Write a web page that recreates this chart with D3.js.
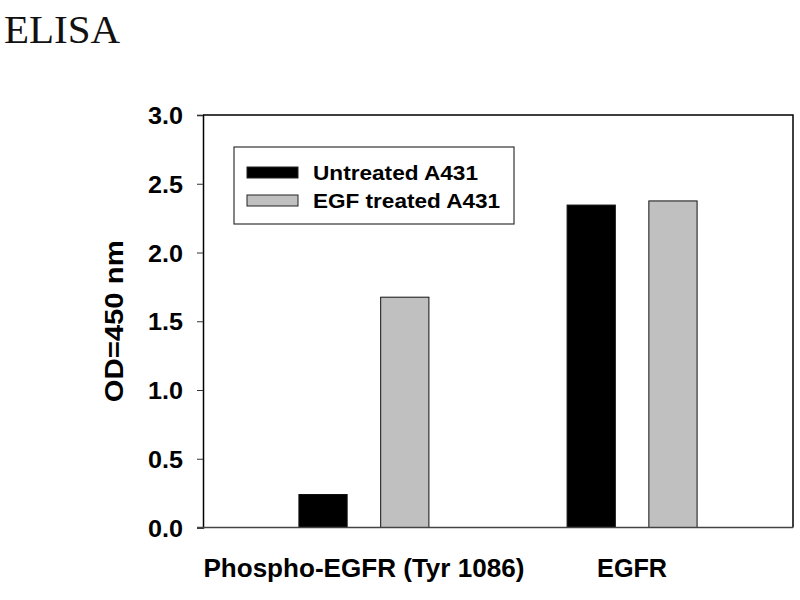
<!DOCTYPE html>
<html>
<head>
<meta charset="utf-8">
<script src="https://cdn.jsdelivr.net/npm/d3@7"></script>
<style>
  html, body { margin: 0; padding: 0; background: #fff; }
  svg { display: block; }
</style>
</head>
<body>
<svg id="chart" width="800" height="600"></svg>
<script>
// ---- data ----
const categories = ["Phospho-EGFR (Tyr 1086)", "EGFR"];
const seriesNames = ["Untreated A431", "EGF treated A431"];
const untreated = [0.24, 2.345];
const egfTreated = [1.675, 2.375];
const yTicks = [0.0, 0.5, 1.0, 1.5, 2.0, 2.5, 3.0];
const seriesColors = ["#000000", "#c0c0c0"];

const svg = d3.select("#chart");
const font = "'Liberation Sans', Arial, sans-serif";

const plot = { left: 203, right: 793, top: 115, bottom: 527.5 };

// title
svg.append("text")
  .attr("x", 4).attr("y", 43)
  .attr("font-family", "'Liberation Serif', 'Times New Roman', serif")
  .attr("font-size", 41)
  .attr("fill", "#111")
  .text("ELISA");

const x0 = d3.scalePoint().domain(categories).range([plot.left, plot.right]).padding(0.6);
const x1 = d3.scaleBand().domain(seriesNames).range([-65, 65]).paddingInner(0.41);
const y = d3.scaleLinear().domain([0, 3]).range([plot.bottom, plot.top]);

const values = [untreated, egfTreated];
const rows = [];
categories.forEach((c, i) => {
  seriesNames.forEach((s, j) => rows.push({ cat: c, series: s, value: values[j][i], color: seriesColors[j] }));
});

// bars
svg.append("g").selectAll("rect").data(rows).join("rect")
  .attr("x", d => x0(d.cat) + x1(d.series))
  .attr("width", x1.bandwidth())
  .attr("y", d => y(d.value))
  .attr("height", d => y(0) - y(d.value))
  .attr("fill", d => d.color)
  .attr("stroke", "#111")
  .attr("stroke-width", 1);

// frame: top and right
svg.append("path")
  .attr("d", `M${plot.left},${plot.top}H${plot.right}V${plot.bottom}`)
  .attr("fill", "none").attr("stroke", "#000").attr("stroke-width", 1.5);

// y axis
const yAxis = svg.append("g")
  .attr("transform", `translate(${plot.left},0)`)
  .call(d3.axisLeft(y).tickValues(yTicks).tickFormat(d3.format(".1f")).tickSize(6).tickPadding(14));
yAxis.select(".domain").attr("stroke", "#000").attr("stroke-width", 1.5);
yAxis.selectAll(".tick line").attr("stroke", "#333");
yAxis.selectAll(".tick text")
  .attr("font-family", font).attr("font-weight", "bold").attr("font-size", 24)
  .attr("fill", "#000")
  .attr("dy", "0.36em")
  .attr("textLength", 35).attr("lengthAdjust", "spacingAndGlyphs");

// x axis line (extends to tick length at left)
svg.append("line")
  .attr("x1", plot.left - 6).attr("x2", plot.right)
  .attr("y1", y(0)).attr("y2", y(0))
  .attr("stroke", "#444").attr("stroke-width", 1.5);

// x labels
const xLabelWidths = [321, 70];
svg.append("g").selectAll("text").data(categories).join("text")
  .attr("x", d => x0(d))
  .attr("y", 577)
  .attr("text-anchor", "middle")
  .attr("font-family", font).attr("font-weight", "bold").attr("font-size", 25)
  .attr("textLength", (d, i) => xLabelWidths[i]).attr("lengthAdjust", "spacingAndGlyphs")
  .text(d => d);

// y label
svg.append("text")
  .attr("transform", `translate(123,${(plot.top + plot.bottom) / 2}) rotate(-90)`)
  .attr("text-anchor", "middle")
  .attr("font-family", font).attr("font-weight", "bold").attr("font-size", 25)
  .attr("textLength", 162).attr("lengthAdjust", "spacingAndGlyphs")
  .text("OD=450 nm");

// legend
const legend = svg.append("g");
legend.append("rect")
  .attr("x", 234).attr("y", 147).attr("width", 280).attr("height", 77)
  .attr("fill", "#fff").attr("stroke", "#333").attr("stroke-width", 1.2);
const legendWidths = [165, 187];
const items = legend.selectAll("g.item").data(seriesNames).join("g")
  .attr("class", "item")
  .attr("transform", (d, i) => `translate(247,${167 + i * 28})`);
items.append("rect")
  .attr("width", 51).attr("height", 11)
  .attr("fill", (d, i) => seriesColors[i])
  .attr("stroke", "#222").attr("stroke-width", 1);
items.append("text")
  .attr("x", 66).attr("y", 13)
  .attr("font-family", font).attr("font-weight", "bold").attr("font-size", 21)
  .attr("textLength", (d, i) => legendWidths[i]).attr("lengthAdjust", "spacingAndGlyphs")
  .text(d => d);
</script>
</body>
</html>
